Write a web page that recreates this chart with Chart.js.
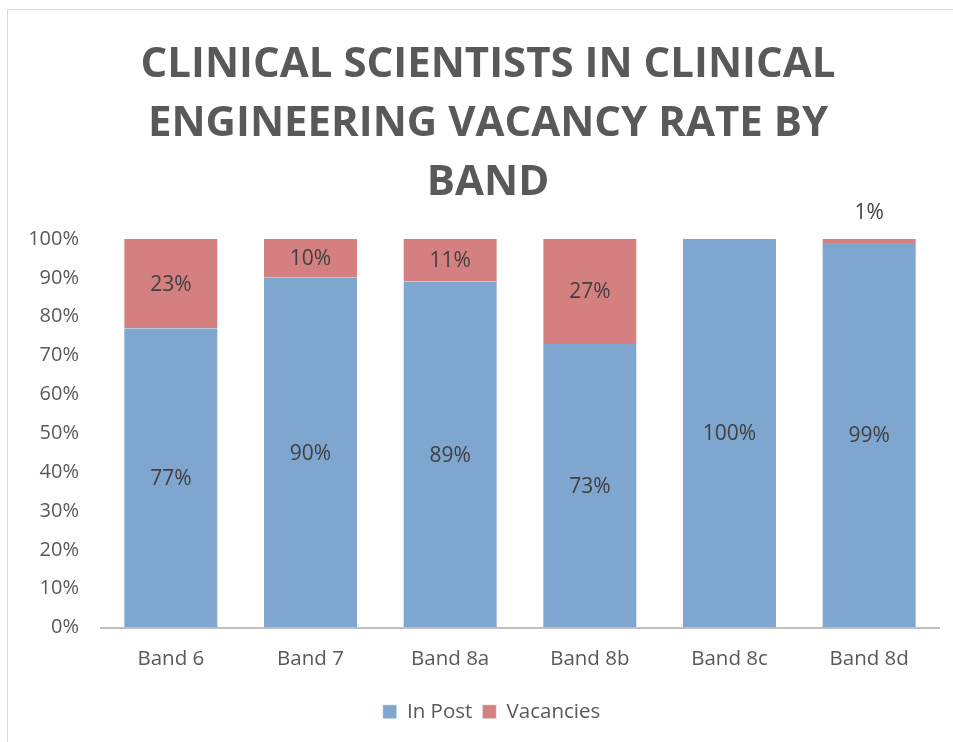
<!DOCTYPE html>
<html><head><meta charset="utf-8">
<script src="https://cdn.jsdelivr.net/npm/chart.js@4/dist/chart.umd.min.js"></script>
<style>
html,body{margin:0;padding:0;background:#fff;overflow:hidden}
#wrap{position:absolute;left:0;top:0;width:953px;height:742px}
#frame{position:absolute;left:7px;top:9px;width:1000px;height:800px;border:1px solid #d9d9d9;box-sizing:border-box}
canvas{position:absolute;left:0;top:0}
</style></head>
<body><div id="wrap"><div id="frame"></div><canvas id="c" width="953" height="742"></canvas></div>
<script>
const categories = ["Band 6","Band 7","Band 8a","Band 8b","Band 8c","Band 8d"];
const inPost = [77, 90, 89, 73, 100, 99];
const vacancies = [23, 10, 11, 27, 0, 1];
const titleLines = ["CLINICAL SCIENTISTS IN CLINICAL","ENGINEERING VACANCY RATE BY","BAND"];
const FONT = "'Open Sans', sans-serif";
const TXT = "#595959";

const titlePlugin = {
  id: 'centeredTitle',
  afterLayout(chart) {
    // the original frame is wider than the picture: centre legend like the title
    if (chart.legend) { chart.legend.left += 22; chart.legend.right += 22; }
  },
  afterDraw(chart) {
    const ctx = chart.ctx;
    ctx.save();
    ctx.font = "bold 42px " + FONT;
    ctx.fillStyle = TXT;
    ctx.textAlign = "center";
    ctx.textBaseline = "alphabetic";
    const cx = 488, base0 = 77, lh = 59;
    titleLines.forEach((t, i) => ctx.fillText(t, cx, base0 + i * lh));
    ctx.restore();
  }
};

const labelPlugin = {
  id: 'segLabels',
  afterDatasetsDraw(chart) {
    const ctx = chart.ctx;
    ctx.save();
    ctx.font = "21px " + FONT;
    ctx.fillStyle = "#404040";
    ctx.textAlign = "center";
    ctx.textBaseline = "middle";
    chart.data.datasets.forEach((ds, di) => {
      const meta = chart.getDatasetMeta(di);
      meta.data.forEach((bar, i) => {
        const v = ds.data[i];
        if (!v) return;
        let y = (bar.y + bar.base) / 2 + 1;
        if (Math.abs(bar.base - bar.y) < 20) y = bar.y - 26;
        ctx.fillText(v + "%", bar.x, y);
      });
    });
    ctx.restore();
  }
};

new Chart(document.getElementById('c'), {
  type: 'bar',
  data: {
    labels: categories,
    datasets: [
      {label: "In Post", data: inPost, backgroundColor: "#7FA6CF", borderColor: "#ffffff", borderWidth: {right:1,left:1}, borderSkipped: false},
      {label: "Vacancies", data: vacancies, backgroundColor: "#D48080", borderColor: "#ffffff", borderWidth: {right:1,left:1}, borderSkipped: false}
    ]
  },
  options: {
    responsive: false,
    animation: false,
    layout: {padding: {left: 0, right: 14, top: 239, bottom: 10}},
    datasets: {bar: {categoryPercentage: 1, barPercentage: 0.68}},
    scales: {
      x: {
        stacked: true,
        grid: {display: false, drawTicks: false},
        border: {display: true, color: "#bfbfbf", width: 2},
        ticks: {color: TXT, font: {family: FONT, size: 20.5}, padding: 19},
        afterFit(s) { s.height = 64; }
      },
      y: {
        stacked: true,
        min: 0, max: 100,
        grid: {display: false, drawTicks: false},
        border: {display: false},
        ticks: {stepSize: 10, color: TXT, font: {family: FONT, size: 20}, padding: 22, callback: v => v + "%"},
        afterFit(s) { s.width = 101; }
      }
    },
    plugins: {
      title: {display: false},
      legend: {
        position: 'bottom',
        labels: {color: TXT, font: {family: FONT, size: 20.5}, boxWidth: 14, boxHeight: 14, padding: 10}
      },
      tooltip: {enabled: false}
    }
  },
  plugins: [labelPlugin, titlePlugin]
});
</script></body></html>
